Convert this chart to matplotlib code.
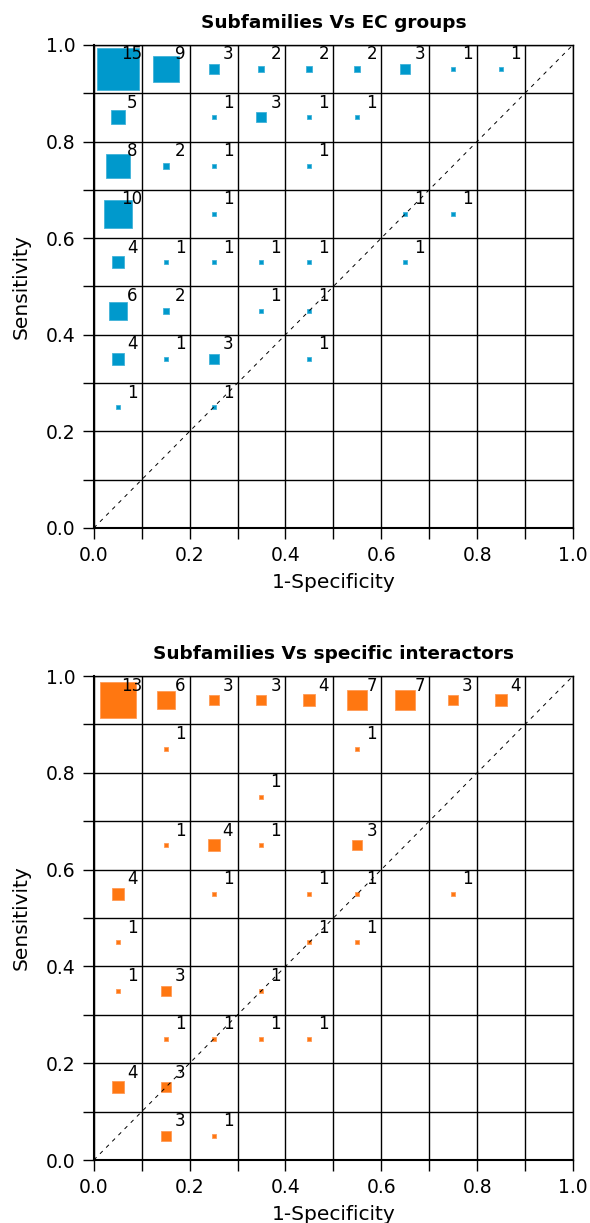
import numpy as np
import matplotlib.pyplot as plt

# (1-specificity, sensitivity, count) per cell
ec_x = [0.05, 0.15, 0.25, 0.35, 0.45, 0.55, 0.65, 0.75, 0.85,
        0.05, 0.25, 0.35, 0.45, 0.55,
        0.05, 0.15, 0.25, 0.45,
        0.05, 0.25, 0.65, 0.75,
        0.05, 0.15, 0.25, 0.35, 0.45, 0.65,
        0.05, 0.15, 0.35, 0.45,
        0.05, 0.15, 0.25, 0.45,
        0.05, 0.25]
ec_y = [0.95] * 9 + [0.85] * 5 + [0.75] * 4 + [0.65] * 4 + [0.55] * 6 + \
       [0.45] * 4 + [0.35] * 4 + [0.25] * 2
ec_n = [15, 9, 3, 2, 2, 2, 3, 1, 1,
        5, 1, 3, 1, 1,
        8, 2, 1, 1,
        10, 1, 1, 1,
        4, 1, 1, 1, 1, 1,
        6, 2, 1, 1,
        4, 1, 3, 1,
        1, 1]

si_x = [0.05, 0.15, 0.25, 0.35, 0.45, 0.55, 0.65, 0.75, 0.85,
        0.15, 0.55,
        0.35,
        0.15, 0.25, 0.35, 0.55,
        0.05, 0.25, 0.45, 0.55, 0.75,
        0.05, 0.45, 0.55,
        0.05, 0.15, 0.35,
        0.15, 0.25, 0.35, 0.45,
        0.05, 0.15,
        0.15, 0.25]
si_y = [0.95] * 9 + [0.85] * 2 + [0.75] + [0.65] * 4 + [0.55] * 5 + \
       [0.45] * 3 + [0.35] * 3 + [0.25] * 4 + [0.15] * 2 + [0.05] * 2
si_n = [13, 6, 3, 3, 4, 7, 7, 3, 4,
        1, 1,
        1,
        1, 4, 1, 3,
        4, 1, 1, 1, 1,
        1, 1, 1,
        1, 3, 1,
        1, 1, 1, 1,
        4, 3,
        3, 1]

ticks = np.arange(0, 1.01, 0.2)
minor = np.arange(0, 1.01, 0.1)


def panel(ax, xs, ys, ns, color, edge, title):
    ax.set_xlim(0, 1)
    ax.set_ylim(0, 1)
    ax.set_xticks(ticks)
    ax.set_yticks(ticks)
    ax.set_xticks(minor, minor=True)
    ax.set_yticks(minor, minor=True)
    ax.grid(True, which='both', color='black', linewidth=1.0)
    ax.tick_params(which='both', direction='out', length=8, width=1,
                   labelsize=13.5, pad=5)
    for s in ax.spines.values():
        s.set_linewidth(1)
    ax.spines['left'].set_linewidth(1.5)
    ax.spines['bottom'].set_linewidth(1.5)
    ax.plot([0, 1], [0, 1], 'k--', lw=0.7, dashes=(4, 5))
    for x, y, n in zip(xs, ys, ns):
        ax.plot(x, y, 's', ms=2.0 * n + 0.6, color=color, mec=edge, mew=0.6, zorder=1)
        ax.text(x + 0.03, y + 0.02, str(n), fontsize=12, ha='center', va='baseline')
    ax.set_title(title, fontsize=13.3, fontweight='bold', pad=12)
    ax.set_xlabel('1-Specificity', fontsize=14.5, labelpad=6)
    ax.set_ylabel('Sensitivity', fontsize=14.5, labelpad=11)


fig = plt.figure(figsize=(5.9, 12.23), dpi=100)
ax1 = fig.add_axes([0.159, 0.5683, 0.812, 0.395])
ax2 = fig.add_axes([0.159, 0.0515, 0.812, 0.3957])
panel(ax1, ec_x, ec_y, ec_n, '#0099cc', '#40b2d9', 'Subfamilies Vs EC groups')
panel(ax2, si_x, si_y, si_n, '#ff7711', '#ff9a55', 'Subfamilies Vs specific interactors')
fig.savefig('out.png', dpi=100)
